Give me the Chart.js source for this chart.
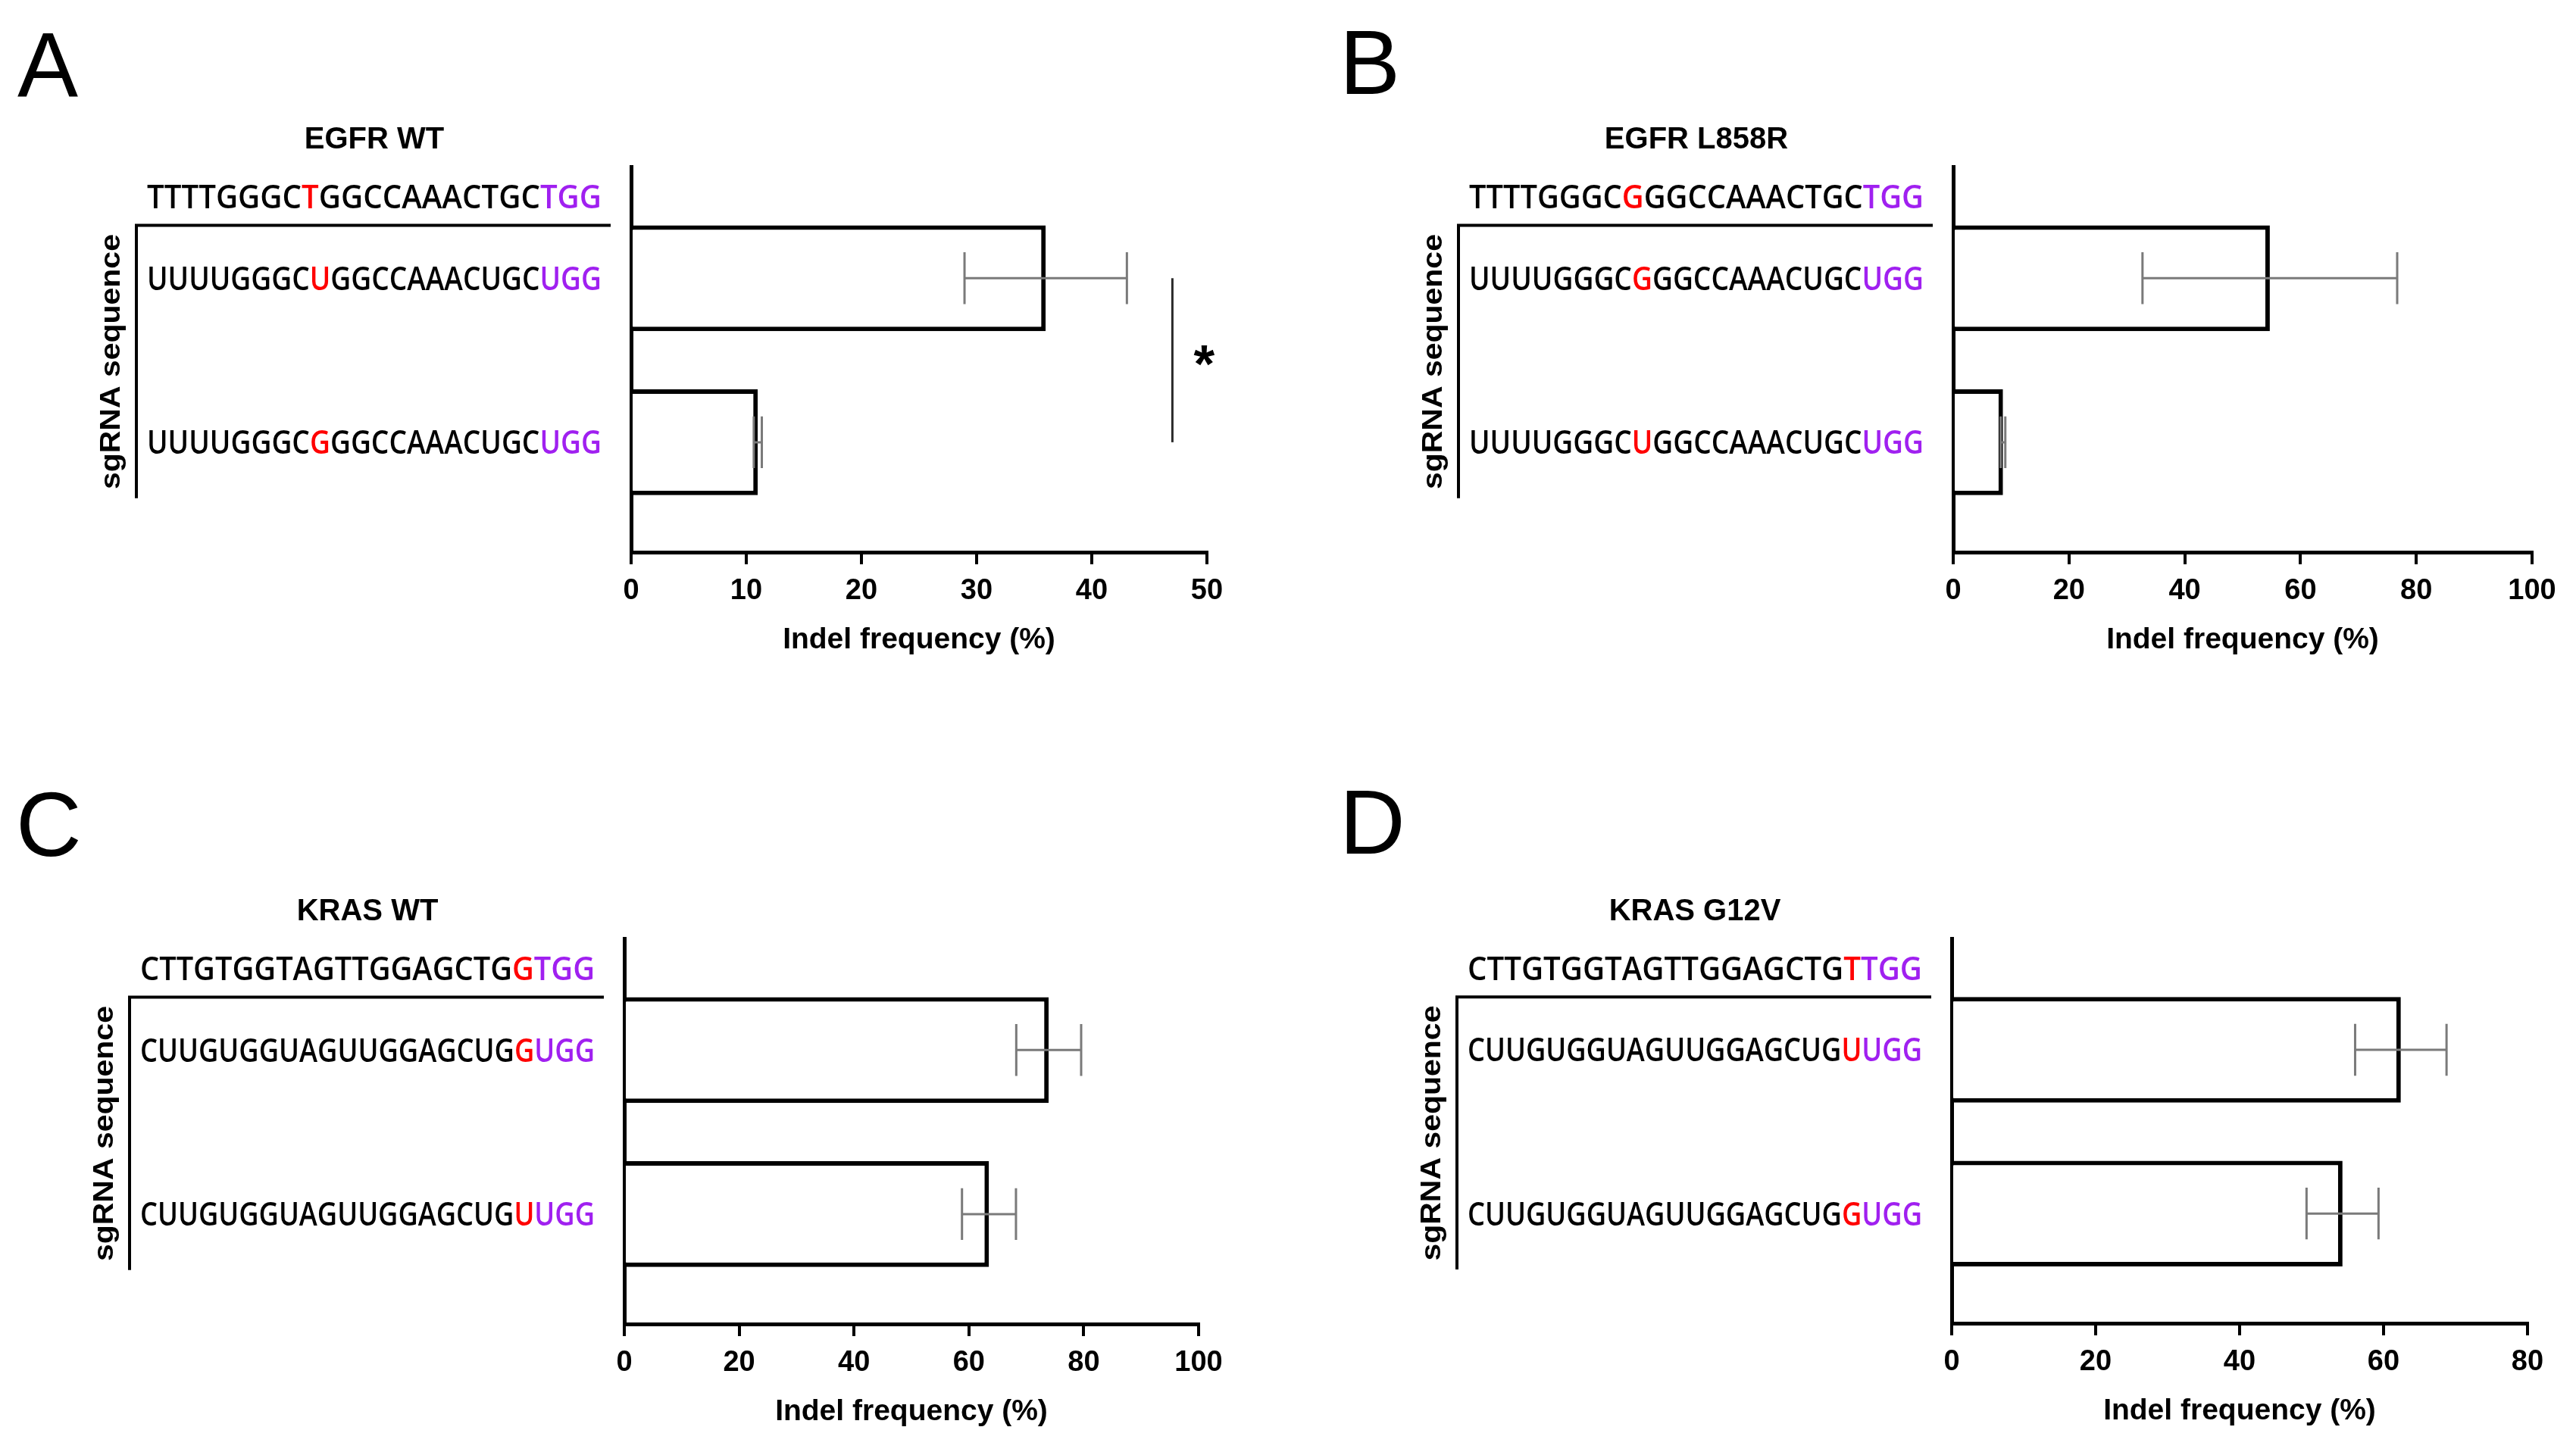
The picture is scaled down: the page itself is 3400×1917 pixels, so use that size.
<!DOCTYPE html>
<html>
<head>
<meta charset="utf-8">
<title>sgRNA indel frequency</title>
<script src="https://cdn.jsdelivr.net/npm/chart.js@4.4.1/dist/chart.umd.min.js"></script>
<style>
  html, body { margin: 0; padding: 0; background: #fff; }
  body { width: 3400px; height: 1917px; position: relative; overflow: hidden; }
  canvas { position: absolute; }
</style>
</head>
<body>
<canvas id="panelA" width="1700" height="958" style="left:0;top:0"></canvas>
<canvas id="panelB" width="1700" height="958" style="left:1700px;top:0"></canvas>
<canvas id="panelC" width="1700" height="959" style="left:0;top:958px"></canvas>
<canvas id="panelD" width="1700" height="959" style="left:1700px;top:958px"></canvas>
<script>
// panel data
const panelLetters = ['A', 'B', 'C', 'D'];
const panelTitles = ['EGFR WT', 'EGFR L858R', 'KRAS WT', 'KRAS G12V'];
const targetSeqs = [
    'TTTTGGGCTGGCCAAACTGCTGG',
    'TTTTGGGCGGGCCAAACTGCTGG',
    'CTTGTGGTAGTTGGAGCTGGTGG',
    'CTTGTGGTAGTTGGAGCTGTTGG',
];
const sgRNAs = [
    ['UUUUGGGCUGGCCAAACUGCUGG', 'UUUUGGGCGGGCCAAACUGCUGG'],
    ['UUUUGGGCGGGCCAAACUGCUGG', 'UUUUGGGCUGGCCAAACUGCUGG'],
    ['CUUGUGGUAGUUGGAGCUGGUGG', 'CUUGUGGUAGUUGGAGCUGUUGG'],
    ['CUUGUGGUAGUUGGAGCUGUUGG', 'CUUGUGGUAGUUGGAGCUGGUGG'],
];
const mutationIndex = [8, 8, 19, 19];
const pamLength = 3;
const indelMeans = [[36.0, 11.0], [54.7, 8.6], [73.9, 63.5], [62.4, 54.3]];
const indelSD = [[7.05, 0.35], [22.0, 0.4], [5.65, 4.7], [6.35, 5.0]];
const xMax = [50, 100, 100, 80];
const xStep = [10, 20, 20, 20];
const significance = [{ from: 0, to: 1, at: 47, label: '*' }, null, null, null];

// look
const RED = '#ff0000';
const PURPLE = '#a020f0';
const ERR_GREY = '#7a7a7a';
const SANS = '"Liberation Sans", Arial, sans-serif';
const SEQ = '"Open Sans", sans-serif';
const AXIS_BAND = 140;

// canvas size, chart area [left, top, right, bottom], panel letter position
const panelBoxes = [
    { canvas: 'panelA', w: 1700, h: 958, area: [833, 220, 1593, 729], letter: [23, 127] },
    { canvas: 'panelB', w: 1700, h: 958, area: [878, 220, 1642, 729], letter: [68, 124] },
    { canvas: 'panelC', w: 1700, h: 959, area: [824, 281, 1582, 790], letter: [21, 172] },
    { canvas: 'panelD', w: 1700, h: 959, area: [876, 281, 1636, 789], letter: [68, 169] },
];

function drawSeq(ctx, seq, left, width, centerY, mutIdx) {
    ctx.save();
    ctx.font = '600 43px ' + SEQ;
    let natural = 0;
    for (const ch of seq) natural += ctx.measureText(ch).width;
    ctx.translate(left, centerY + 15.4);
    ctx.scale(width / natural, 1);
    ctx.textAlign = 'left';
    ctx.textBaseline = 'alphabetic';
    let x = 0;
    for (let i = 0; i < seq.length; i++) {
        ctx.fillStyle = i === mutIdx ? RED : (i >= seq.length - pamLength ? PURPLE : '#000');
        ctx.fillText(seq[i], x, 0);
        x += ctx.measureText(seq[i]).width;
    }
    ctx.restore();
}

const panelDecor = {
    id: 'panelDecor',
    afterDatasetsDraw(chart, args, opts) {
        const k = opts.k;
        const ctx = chart.ctx;
        const xs = chart.scales.x, ys = chart.scales.y;
        const bars = chart.getDatasetMeta(0).data;

        // error bars (SD)
        ctx.save();
        ctx.strokeStyle = ERR_GREY;
        ctx.lineWidth = 3;
        bars.forEach((bar, i) => {
            const lo = xs.getPixelForValue(indelMeans[k][i] - indelSD[k][i]);
            const hi = xs.getPixelForValue(indelMeans[k][i] + indelSD[k][i]);
            const cap = bar.height * 0.245;
            ctx.beginPath();
            ctx.moveTo(lo, bar.y); ctx.lineTo(hi, bar.y);
            ctx.moveTo(lo, bar.y - cap); ctx.lineTo(lo, bar.y + cap);
            ctx.moveTo(hi, bar.y - cap); ctx.lineTo(hi, bar.y + cap);
            ctx.stroke();
        });

        const sig = significance[k];
        if (sig) {
            const sx = xs.getPixelForValue(sig.at);
            const y1 = ys.getPixelForValue(sig.from), y2 = ys.getPixelForValue(sig.to);
            ctx.strokeStyle = '#2a2a2a';
            ctx.beginPath();
            ctx.moveTo(sx, y1); ctx.lineTo(sx, y2);
            ctx.stroke();
            // star sized to its ink height
            ctx.font = 'bold 100px ' + SANS;
            const m = ctx.measureText(sig.label);
            const ink = m.actualBoundingBoxAscent + m.actualBoundingBoxDescent;
            const size = 100 * 27 / ink;
            ctx.font = 'bold ' + size + 'px ' + SANS;
            const m2 = ctx.measureText(sig.label);
            const cy = (y1 + y2) / 2 - 6;
            ctx.fillStyle = '#000';
            ctx.textAlign = 'center';
            ctx.textBaseline = 'alphabetic';
            ctx.fillText(sig.label, sx + 42, cy + (m2.actualBoundingBoxAscent - m2.actualBoundingBoxDescent) / 2);
        }
        ctx.restore();
    },
    afterDraw(chart, args, opts) {
        const k = opts.k;
        const ctx = chart.ctx;
        const area = chart.chartArea;
        const ys = chart.scales.y;
        const bars = chart.getDatasetMeta(0).data;
        const box = panelBoxes[k];
        const seqWidth = 600;
        const seqRight = area.left - 39;
        const seqLeft = seqRight - seqWidth;

        ctx.save();
        ctx.fillStyle = '#000';

        ctx.font = '120px ' + SANS;
        ctx.textAlign = 'left';
        ctx.textBaseline = 'alphabetic';
        ctx.fillText(panelLetters[k], box.letter[0], box.letter[1]);

        ctx.font = 'bold 40px ' + SANS;
        ctx.textAlign = 'center';
        ctx.textBaseline = 'middle';
        ctx.fillText(panelTitles[k], seqLeft + seqWidth / 2, area.top - 35);

        drawSeq(ctx, targetSeqs[k], seqLeft, seqWidth, area.top + 40, mutationIndex[k]);
        sgRNAs[k].forEach((s, i) => {
            drawSeq(ctx, s, seqLeft, seqWidth, ys.getPixelForValue(i), mutationIndex[k]);
        });

        // bracket round the sgRNA rows
        const first = bars[0], last = bars[bars.length - 1];
        const yTop = first.y - first.height / 2;
        const yBot = last.y + last.height / 2 + 4;
        const bx = seqLeft - 14;
        ctx.strokeStyle = '#000';
        ctx.lineWidth = 4;
        ctx.beginPath();
        ctx.moveTo(bx, yBot);
        ctx.lineTo(bx, yTop);
        ctx.lineTo(seqRight + 12, yTop);
        ctx.stroke();

        ctx.translate(seqLeft - 46, (yTop + yBot) / 2);
        ctx.rotate(-Math.PI / 2);
        ctx.font = 'bold 36px ' + SANS;
        const w = ctx.measureText('sgRNA sequence').width;
        ctx.scale(337 / w, 1);
        ctx.textAlign = 'center';
        ctx.textBaseline = 'middle';
        ctx.fillText('sgRNA sequence', 0, 0);
        ctx.restore();
    },
};

panelBoxes.forEach((box, k) => {
    const [aL, aT, aR, aB] = box.area;
    new Chart(document.getElementById(box.canvas), {
        type: 'bar',
        data: {
            datasets: [{
                data: indelMeans[k].map((v, i) => ({ x: v, y: i })),
                backgroundColor: '#ffffff',
                borderColor: '#000000',
                borderWidth: 6,
                barPercentage: 0.645,
                categoryPercentage: 1,
            }],
        },

        options: {
            indexAxis: 'y',
            responsive: false,
            animation: false,
            events: [],
            layout: {
                padding: { left: aL, top: aT, right: box.w - aR, bottom: box.h - aB - AXIS_BAND },
            },
            scales: {
                x: {
                    type: 'linear',
                    position: 'bottom',
                    min: 0,
                    max: xMax[k],
                    ticks: {
                        stepSize: xStep[k],
                        color: '#000',
                        padding: 13,
                        font: { family: SANS, size: 38, weight: 'bold' },
                    },
                    grid: { drawOnChartArea: false, drawTicks: true, tickLength: 16, color: '#000', lineWidth: 4 },
                    border: { display: true, color: '#000', width: 5 },
                    title: {
                        display: true,
                        text: 'Indel frequency (%)',
                        color: '#000',
                        font: { family: SANS, size: 39, weight: 'bold' },
                        padding: { top: 0, bottom: 0 },
                    },
                    afterFit: (s) => { s.height = AXIS_BAND; },
                },
                y: {
                    type: 'linear',
                    reverse: true,
                    offset: false,
                    min: -0.68,
                    max: sgRNAs[k].length - 1 + 0.67,
                    ticks: { display: false },
                    grid: { display: false, drawTicks: false, offset: false },
                    border: { display: true, color: '#000', width: 5 },
                    afterBuildTicks: (s) => { s.ticks = sgRNAs[k].map((_, i) => ({ value: i })); },
                    afterFit: (s) => { s.width = 0; },
                },
            },
            plugins: {
                legend: { display: false },
                tooltip: { enabled: false },
                panelDecor: { k: k },
            },
        },
        plugins: [panelDecor],
    });
});
</script>
</body>
</html>
